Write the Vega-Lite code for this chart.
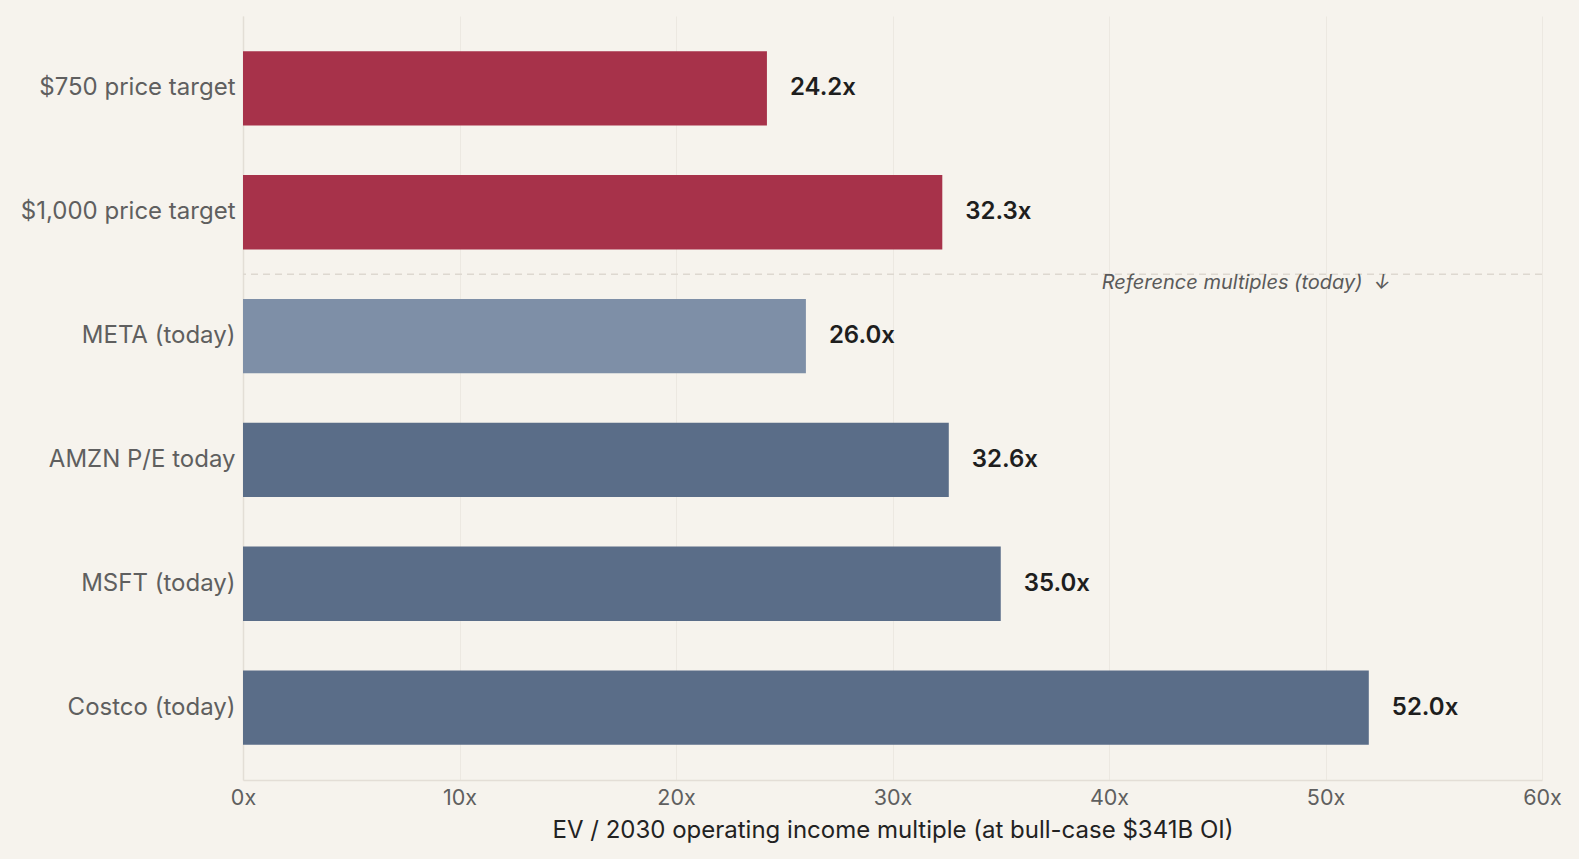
{
  "$schema": "https://vega.github.io/schema/vega-lite/v6.json",
  "width": 1299,
  "height": 764,
  "autosize": {"type": "none"},
  "padding": {"left": 243, "top": 16, "right": 37, "bottom": 79},
  "background": "#F6F3ED",
  "config": {
    "font": "Inter",
    "view": {"stroke": null},
    "axis": {"labelFont": "Inter", "titleFont": "Inter"}
  },
  "data": {
    "values": [
      {"category": "$750 price target", "value": 24.2, "group": "target"},
      {"category": "$1,000 price target", "value": 32.3, "group": "target"},
      {"category": "META (today)", "value": 26.0, "group": "meta"},
      {"category": "AMZN P/E today", "value": 32.6, "group": "ref"},
      {"category": "MSFT (today)", "value": 35.0, "group": "ref"},
      {"category": "Costco (today)", "value": 52.0, "group": "ref"}
    ]
  },
  "transform": [
    {"calculate": "format(datum.value, '.1f') + 'x'", "as": "label"}
  ],
  "encoding": {
    "y": {
      "field": "category",
      "type": "nominal",
      "sort": null,
      "scale": {"paddingInner": 0.4, "paddingOuter": 0.285},
      "axis": {
        "title": null,
        "ticks": false,
        "labelFontSize": 24,
        "labelLimit": 400,
        "labelColor": "#5F5F5F",
        "labelPadding": 8,
        "domainColor": "#E3DED6",
        "domainWidth": 1.5,
        "grid": false
      }
    }
  },
  "layer": [
    {
      "mark": {"type": "bar"},
      "encoding": {
        "x": {
          "field": "value",
          "type": "quantitative",
          "scale": {"domain": [0, 60]},
          "axis": {
            "values": [0, 10, 20, 30, 40, 50, 60],
            "labelExpr": "datum.value + 'x'",
            "labelFlush": false,
            "title": "EV / 2030 operating income multiple (at bull-case $341B OI)",
            "titleFontSize": 24,
            "titleFontWeight": "normal",
            "titleColor": "#222222",
            "titlePadding": 10,
            "labelFontSize": 21.5,
            "labelColor": "#5F5F5F",
            "labelPadding": 7,
            "ticks": false,
            "domainColor": "#E3DED6",
            "domainWidth": 1.5,
            "gridColor": "#ECE8E1",
            "gridWidth": 1
          }
        },
        "color": {
          "field": "group",
          "type": "nominal",
          "scale": {"domain": ["target", "meta", "ref"], "range": ["#A7324A", "#7E8FA7", "#5A6D88"]},
          "legend": null
        }
      }
    },
    {
      "mark": {"type": "text", "align": "left", "baseline": "middle", "dx": 23, "fontSize": 24, "fontWeight": 600, "color": "#1E1E1E"},
      "encoding": {
        "x": {"field": "value", "type": "quantitative"},
        "text": {"field": "label", "type": "nominal"}
      }
    },
    {
      "data": {"values": [{"category": "$1,000 price target", "note": "Reference multiples (today)\u00a0\u00a0↓", "pos": 53}]},
      "layer": [
        {
          "mark": {"type": "rule", "strokeDash": [7, 5], "strokeWidth": 1.5, "color": "#DDD8D0", "yOffset": 62},
          "encoding": {"y": {"field": "category", "type": "nominal"}}
        },
        {
          "mark": {"type": "text", "align": "right", "baseline": "middle", "fontSize": 20, "fontStyle": "italic", "color": "#5A5A5A", "yOffset": 71},
          "encoding": {
            "y": {"field": "category", "type": "nominal"},
            "x": {"field": "pos", "type": "quantitative"},
            "text": {"field": "note", "type": "nominal"}
          }
        }
      ]
    }
  ]
}
